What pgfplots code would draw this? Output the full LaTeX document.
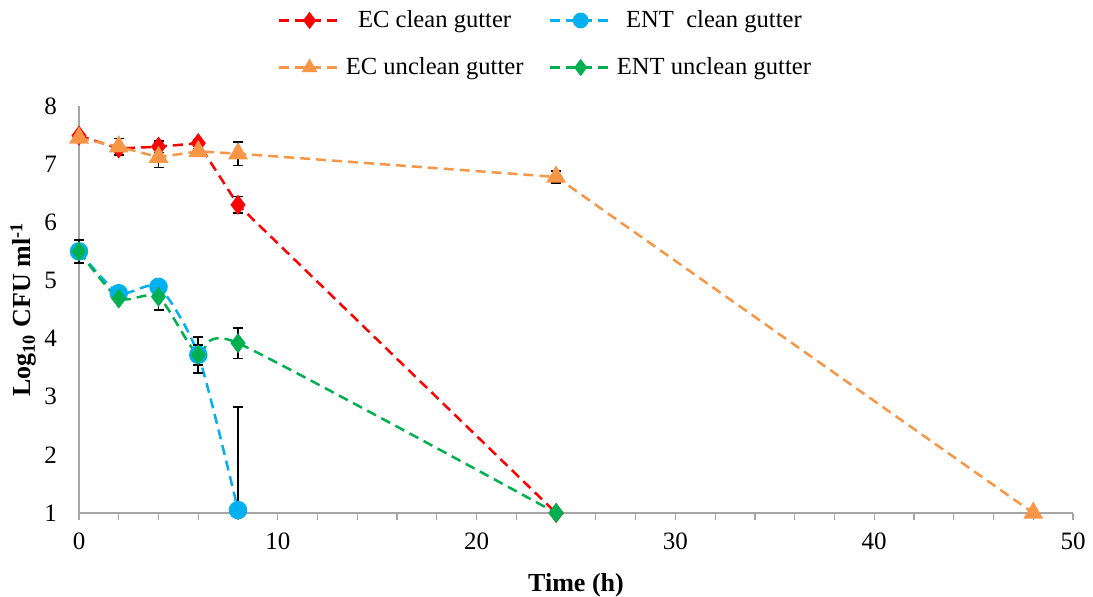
\documentclass[border=0pt]{standalone}
\usepackage{fontspec}
\setmainfont{Liberation Serif}
\usepackage{pgfplots}
\pgfplotsset{compat=1.18}

\definecolor{ecclean}{RGB}{255,0,0}
\definecolor{entclean}{RGB}{0,176,240}
\definecolor{ecunclean}{RGB}{247,150,70}
\definecolor{entunclean}{RGB}{0,176,80}

\begin{document}
\begin{tikzpicture}[font=\fontsize{12.5}{15}\selectfont]
\begin{axis}[
  scale only axis,
  width=497pt, height=203.5pt,
  xmin=0, xmax=50, ymin=1, ymax=8,
  xtick={0,10,...,50},
  minor xtick={2,4,...,48},
  ytick={1,...,8},
  axis lines*=left,
  axis line style={gray!70, line width=0.8pt},
  tick align=outside,
  major tick length=3.5pt, minor tick length=3.5pt,
  xtick style={gray!70, line width=0.6pt},
  ytick style={draw=none},
  tick label style={font=\fontsize{12.5}{15}\selectfont},
  yticklabel style={xshift=-4pt},
  xticklabel style={yshift=-3pt},
  /pgf/number format/assume math mode=true,
  xlabel={\textbf{Time (h)}},
  ylabel={\textbf{Log\textsubscript{10} CFU ml\textsuperscript{-1}}},
  label style={font=\fontsize{13}{15}\selectfont},
  xlabel style={yshift=-5pt},
  ylabel style={yshift=-3pt},
  clip=false,
  legend columns=2,
  legend style={at={(0.478,1)}, anchor=south, xshift=-4pt, yshift=10pt, draw=none,
    font=\fontsize{12.3}{14}\selectfont, row sep=9.5pt,
    /tikz/every odd column/.append style={column sep=0pt},
    /tikz/every even column/.append style={column sep=10.5pt}},
  legend image code/.code={\draw[mark repeat=2,mark phase=2,#1,mark size=3.3pt]
    plot coordinates {(0pt,0pt) (15.5pt,0pt) (31pt,0pt)};},
  every axis plot/.append style={line width=1.25pt, dash pattern=on 5pt off 3pt},
  error bars/y dir=both, error bars/y explicit,
  error bars/error bar style={black, line width=0.8pt, solid},
  error bars/error mark options={black, line width=0.8pt, mark size=2.5pt, rotate=90, solid},
]
% EC clean gutter
\addplot[color=ecclean, mark=diamond*, mark size=4pt, mark options={solid}]
  coordinates {(0,7.49) +- (0,0.05) (2,7.27) +- (0,0.05) (4,7.30) +- (0,0.10)
               (6,7.36) +- (0,0.05) (8,6.30) +- (0,0.14) (24,1.0) +- (0,0)};
\addlegendentry{EC clean gutter}
% ENT clean gutter
\addplot[color=entclean, smooth, tension=0.4, mark=*, mark size=4pt, mark options={solid}]
  coordinates {(0,5.50) +- (0,0.20) (2,4.78) +- (0,0.05) (4,4.89) +- (0,0.08)
               (6,3.72) +- (0,0.17) (8,1.05) += (0,1.77) -= (0,0)};
\addlegendentry{ENT\ \ clean gutter}
% EC unclean gutter
\addplot[color=ecunclean, mark=triangle*, mark size=4.5pt, mark options={solid}]
  coordinates {(0,7.45) +- (0,0.05) (2,7.30) +- (0,0.14) (4,7.12) +- (0,0.18)
               (6,7.22) +- (0,0.05) (8,7.18) +- (0,0.20) (24,6.78) +- (0,0.10)
               (48,1.0) +- (0,0)};
\addlegendentry{EC unclean gutter}
% ENT unclean gutter
\addplot[color=entunclean, smooth, tension=0.4, mark=diamond*, mark size=4pt, mark options={solid}]
  coordinates {(0,5.50) +- (0,0.20) (2,4.69) +- (0,0.05) (4,4.72) +- (0,0.23)
               (6,3.72) +- (0,0.31) (8,3.92) +- (0,0.26) (24,1.0) +- (0,0)};
\addlegendentry{ENT unclean gutter}
\coordinate (bl) at (rel axis cs:0,0);
\coordinate (tr) at (rel axis cs:1,1);
\end{axis}
\pgfresetboundingbox
\path ([shift={(-39.5pt,-42pt)}]bl) rectangle ([shift={(10pt,53pt)}]tr);
\end{tikzpicture}
\end{document}
